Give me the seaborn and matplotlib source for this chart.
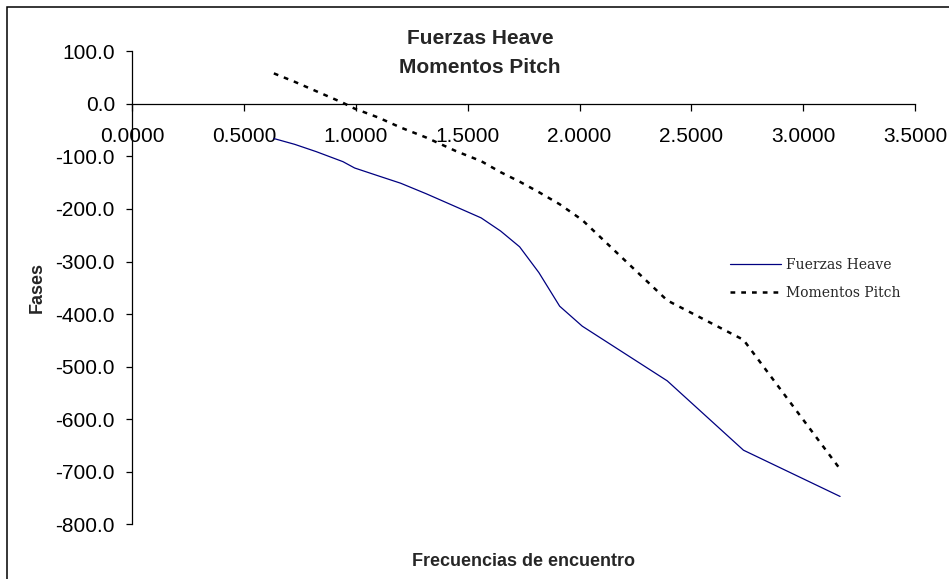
import matplotlib
matplotlib.use("Agg")
import matplotlib.pyplot as plt
from matplotlib.patches import Rectangle
import seaborn as sns
import pandas as pd

# Data
frecuencias = [0.633, 0.726, 0.823, 0.942, 0.994, 1.100, 1.200, 1.314, 1.448, 1.560,
               1.647, 1.732, 1.818, 1.911, 2.012, 2.392, 2.733, 3.165]
fuerzas_heave = [-66, -77, -91, -110, -122, -137, -151, -171, -196, -217,
                 -242, -272, -321, -385, -423, -527, -659, -747]
momentos_pitch = [58, 42, 24, 2, -9, -26, -45, -64, -90, -109,
                  -130, -148, -168, -191, -221, -374, -449, -695]
serie_names = ["Fuerzas Heave", "Momentos Pitch"]
x_ticks = [0.0, 0.5, 1.0, 1.5, 2.0, 2.5, 3.0, 3.5]
y_ticks = [100, 0, -100, -200, -300, -400, -500, -600, -700, -800]

df_h = pd.DataFrame({"x": frecuencias, "y": fuerzas_heave})
df_p = pd.DataFrame({"x": frecuencias, "y": momentos_pitch})

sns.set_style("white")
plt.rcParams["font.family"] = ["Liberation Sans", "DejaVu Sans"]

W, H = 949, 579
fig = plt.figure(figsize=(W / 100, H / 100), dpi=100)
ax = fig.add_axes([132.3 / W, 1 - 524.3 / H, (915 - 132.3) / W, (524.3 - 51.3) / H])

sns.lineplot(data=df_h, x="x", y="y", ax=ax, color="#000080", linewidth=0.9,
             sort=False, estimator=None, label=serie_names[0])
sns.lineplot(data=df_p, x="x", y="y", ax=ax, color="black", linewidth=1.8,
             sort=False, estimator=None, label=serie_names[1], dashes=False)
ax.lines[1].set_dashes((1.9, 2.4))

ax.set_xlim(0, 3.5)
ax.set_ylim(-800, 100)
ax.set_xticks(x_ticks)
ax.set_yticks(y_ticks)
ax.set_xticklabels([f"{v:.4f}" for v in x_ticks])
ax.set_yticklabels([f"{v:.1f}" for v in y_ticks])

for s in ["top", "right"]:
    ax.spines[s].set_visible(False)
ax.spines["bottom"].set_position(("data", 0))
for s in ["left", "bottom"]:
    ax.spines[s].set_color("black")
    ax.spines[s].set_linewidth(0.9)

ax.tick_params(axis="x", direction="out", length=5, width=0.9, pad=11.5,
               labelsize=15, colors="black", bottom=True)
ax.tick_params(axis="y", direction="out", length=4.5, width=0.9, pad=8,
               labelsize=15, colors="black", left=True)

ax.set_xlabel("Frecuencias de encuentro", fontsize=13, fontweight="bold")
ax.set_ylabel("Fases", fontsize=13, fontweight="bold")
ax.xaxis.set_label_coords(0.5, -0.06)
ax.yaxis.set_label_coords(-0.11, 0.5)

fig.text(480 / W, 1 - 44 / H, "Fuerzas Heave", ha="center", va="baseline",
         fontsize=15, fontweight="bold")
fig.text(480 / W, 1 - 73.3 / H, "Momentos Pitch", ha="center", va="baseline",
         fontsize=15, fontweight="bold")

leg = ax.legend(loc="center left", bbox_to_anchor=(730 / W, 1 - 279 / H),
                bbox_transform=fig.transFigure, frameon=False, borderpad=0,
                borderaxespad=0, handlelength=3.7, handletextpad=0.35,
                labelspacing=1.0, prop={"family": "DejaVu Serif", "size": 10})

fig.patches.append(Rectangle((7.3 / W, -0.1), 1.2, 1.1 - 6.7 / H,
                             transform=fig.transFigure, fill=False,
                             edgecolor="black", linewidth=1.1))

fig.savefig("out.png", dpi=100)
